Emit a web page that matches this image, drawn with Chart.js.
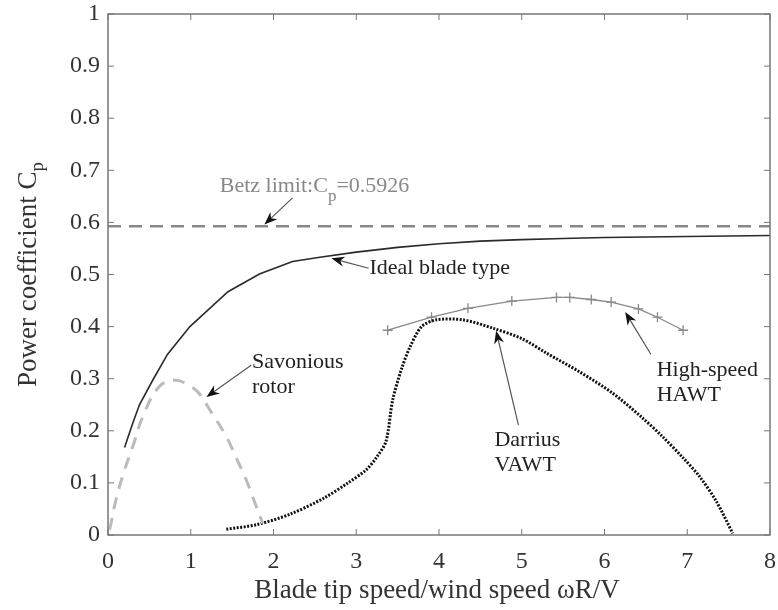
<!DOCTYPE html>
<html>
<head>
<meta charset="utf-8">
<script src="https://cdn.jsdelivr.net/npm/chart.js@4.4.0/dist/chart.umd.min.js"></script>
<style>
  body { margin: 0; background: #fff; }
  #wrap { width: 778px; height: 610px; }
</style>
</head>
<body>
<div id="wrap"><canvas id="myChart" width="778" height="610"></canvas></div>
<script>
// tip speed ratio values and power coefficient
const betzX = [0, 8];
const betzY = [0.5926, 0.5926];

const idealX = [0.2, 0.3, 0.38, 0.54, 0.72, 0.99, 1.45, 1.83, 2.23, 2.56, 3.0, 3.5, 4.0, 4.5, 5.0, 5.5, 6.0, 7.0, 8.0];
const idealY = [0.168, 0.215, 0.25, 0.297, 0.347, 0.40, 0.467, 0.501, 0.525, 0.533, 0.543, 0.552, 0.559, 0.564, 0.567, 0.569, 0.571, 0.573, 0.575];

const savoniusX = [0.02, 0.1, 0.2, 0.3, 0.42, 0.62, 0.82, 1.0, 1.1, 1.25, 1.43, 1.55, 1.67, 1.78, 1.87];
const savoniusY = [0.01, 0.07, 0.125, 0.17, 0.227, 0.285, 0.297, 0.285, 0.272, 0.235, 0.189, 0.148, 0.106, 0.06, 0.022];

const darriusX = [1.43, 1.8, 2.2, 2.6, 2.9, 3.12, 3.25, 3.36, 3.44, 3.55, 3.65, 3.79, 3.97, 4.29, 4.65, 5.0, 5.30, 5.7, 6.10, 6.45, 6.70, 6.95, 7.15, 7.35, 7.55];
const darriusY = [0.011, 0.02, 0.04, 0.07, 0.10, 0.125, 0.15, 0.18, 0.259, 0.32, 0.361, 0.40, 0.413, 0.413, 0.397, 0.377, 0.349, 0.313, 0.272, 0.226, 0.189, 0.148, 0.112, 0.065, 0.003];

const hawtX = [3.38, 3.91, 4.35, 4.88, 5.42, 5.58, 5.84, 6.08, 6.41, 6.64, 6.95];
const hawtY = [0.393, 0.418, 0.435, 0.449, 0.456, 0.456, 0.452, 0.447, 0.434, 0.418, 0.393];

const xTicks = [0, 1, 2, 3, 4, 5, 6, 7, 8];
const yTicks = [0, 0.1, 0.2, 0.3, 0.4, 0.5, 0.6, 0.7, 0.8, 0.9, 1];

const serif = "'Liberation Serif', 'DejaVu Serif', serif";

function pts(xs, ys) {
  return xs.map((x, i) => ({ x: x, y: ys[i] }));
}

// text labels and arrows, anchored in data units
const notes = [
  { lines: ["Betz limit:C", "p", "=0.5926"], betz: true, x: 1.35, y: 0.658, color: "#888",
    tail: [2.23, 0.647], head: [1.89, 0.596] },
  { lines: ["Ideal blade type"], x: 3.16, y: 0.512, color: "#222",
    tail: [3.15, 0.512], head: [2.70, 0.531] },
  { lines: ["Savonious", "rotor"], x: 1.74, y: 0.331, color: "#222",
    tail: [1.73, 0.326], head: [1.19, 0.265] },
  { lines: ["Darrius", "VAWT"], x: 4.67, y: 0.182, color: "#222",
    tail: [4.96, 0.211], head: [4.69, 0.392] },
  { lines: ["High-speed", "HAWT"], x: 6.63, y: 0.317, color: "#222",
    tail: [6.56, 0.347], head: [6.25, 0.428] }
];

function arrow(ctx, x1, y1, x2, y2) {
  const ang = Math.atan2(y2 - y1, x2 - x1);
  ctx.save();
  ctx.strokeStyle = "#555";
  ctx.lineWidth = 1.2;
  ctx.beginPath();
  ctx.moveTo(x1, y1);
  ctx.lineTo(x2 - 6 * Math.cos(ang), y2 - 6 * Math.sin(ang));
  ctx.stroke();
  ctx.translate(x2, y2);
  ctx.rotate(ang);
  ctx.fillStyle = "#111";
  ctx.beginPath();
  ctx.moveTo(0, 0);
  ctx.lineTo(-13, -5);
  ctx.lineTo(-9, 0);
  ctx.lineTo(-13, 5);
  ctx.closePath();
  ctx.fill();
  ctx.restore();
}

const framePlugin = {
  id: "framePlugin",
  afterDraw(chart) {
    const ctx = chart.ctx;
    const { left, right, top, bottom } = chart.chartArea;
    const xs = chart.scales.x, ys = chart.scales.y;
    ctx.save();
    ctx.strokeStyle = "#777";
    ctx.lineWidth = 1.5;
    ctx.strokeRect(left, top, right - left, bottom - top);
    ctx.lineWidth = 1;
    ctx.beginPath();
    xTicks.forEach(v => {
      const px = xs.getPixelForValue(v);
      ctx.moveTo(px, bottom); ctx.lineTo(px, bottom - 6);
      ctx.moveTo(px, top); ctx.lineTo(px, top + 6);
    });
    yTicks.forEach(v => {
      const py = ys.getPixelForValue(v);
      ctx.moveTo(left, py); ctx.lineTo(left + 6, py);
      ctx.moveTo(right, py); ctx.lineTo(right - 6, py);
    });
    ctx.stroke();

    // axis titles
    ctx.fillStyle = "#333";
    ctx.font = "27px " + serif;
    ctx.textAlign = "center";
    ctx.textBaseline = "middle";
    ctx.fillText("Blade tip speed/wind speed \u03C9R/V", (left + right) / 2 - 2, 591);

    ctx.save();
    ctx.translate(29, (top + bottom) / 2);
    ctx.rotate(-Math.PI / 2);
    ctx.textAlign = "left";
    const main = "Power coefficient C";
    const w = ctx.measureText(main).width;
    ctx.font = "19px " + serif;
    const ws = ctx.measureText("p").width;
    const start = -(w + ws) / 2;
    ctx.font = "27px " + serif;
    ctx.fillText(main, start, 0);
    ctx.font = "19px " + serif;
    ctx.fillText("p", start + w, 9);
    ctx.restore();

    // annotations
    notes.forEach(n => {
      arrow(ctx, xs.getPixelForValue(n.tail[0]), ys.getPixelForValue(n.tail[1]),
        xs.getPixelForValue(n.head[0]), ys.getPixelForValue(n.head[1]));
      const tx = xs.getPixelForValue(n.x), ty = ys.getPixelForValue(n.y);
      ctx.fillStyle = n.color;
      ctx.textAlign = "left";
      if (n.betz) {
        ctx.textBaseline = "alphabetic";
        ctx.font = "22px " + serif;
        ctx.fillText(n.lines[0], tx, ty);
        let cx = tx + ctx.measureText(n.lines[0]).width;
        ctx.font = "17px " + serif;
        ctx.fillText(n.lines[1], cx, ty + 9);
        cx += ctx.measureText(n.lines[1]).width;
        ctx.font = "22px " + serif;
        ctx.fillText(n.lines[2], cx, ty);
      } else {
        ctx.textBaseline = "middle";
        ctx.font = "22px " + serif;
        n.lines.forEach((s, i) => ctx.fillText(s, tx, ty + i * 25));
      }
    });
    ctx.restore();
  }
};

const config = {
  type: "scatter",
  data: {
    datasets: [
      {
        label: "Betz limit",
        data: pts(betzX, betzY),
        showLine: true,
        borderColor: "#888",
        borderWidth: 2.5,
        borderDash: [13, 8],
        pointRadius: 0
      },
      {
        label: "Ideal blade type",
        data: pts(idealX, idealY),
        showLine: true,
        borderColor: "#2a2a2a",
        borderWidth: 1.6,
        pointRadius: 0
      },
      {
        label: "Savonious rotor",
        data: pts(savoniusX, savoniusY),
        showLine: true,
        tension: 0.4,
        borderColor: "#bbb",
        borderWidth: 3,
        borderDash: [12, 9],
        pointRadius: 0
      },
      {
        label: "Darrius VAWT",
        data: pts(darriusX, darriusY),
        showLine: true,
        tension: 0.3,
        borderColor: "#111",
        borderWidth: 3,
        borderDash: [2, 1.5],
        pointRadius: 0
      },
      {
        label: "High-speed HAWT",
        data: pts(hawtX, hawtY),
        showLine: true,
        borderColor: "#888",
        borderWidth: 1.3,
        pointStyle: "cross",
        pointRadius: 5,
        pointBorderColor: "#888",
        pointBorderWidth: 1.3
      }
    ]
  },
  options: {
    responsive: false,
    animation: false,
    layout: { padding: { top: 14, right: 8, left: 0, bottom: 0 } },
    plugins: {
      legend: { display: false },
      tooltip: { enabled: false }
    },
    scales: {
      x: {
        type: "linear",
        min: 0,
        max: 8,
        afterFit(scale) {
          scale.height = 75;
          scale.paddingLeft = 0;
          scale.paddingRight = 0;
        },
        afterBuildTicks(scale) { scale.ticks = xTicks.map(v => ({ value: v })); },
        grid: { display: false, drawTicks: false },
        border: { display: false },
        ticks: {
          padding: 12,
          color: "#333",
          font: { family: serif, size: 24 },
          callback: v => String(v)
        }
      },
      y: {
        type: "linear",
        min: 0,
        max: 1,
        afterFit(scale) {
          scale.width = 108;
          scale.paddingTop = 0;
          scale.paddingBottom = 0;
        },
        afterBuildTicks(scale) { scale.ticks = yTicks.map(v => ({ value: v })); },
        grid: { display: false, drawTicks: false },
        border: { display: false },
        ticks: {
          padding: 8,
          color: "#333",
          font: { family: serif, size: 24 },
          callback: v => String(Math.round(v * 10) / 10)
        }
      }
    }
  },
  plugins: [framePlugin]
};

const myChart = new Chart(document.getElementById("myChart"), config);
</script>
</body>
</html>
